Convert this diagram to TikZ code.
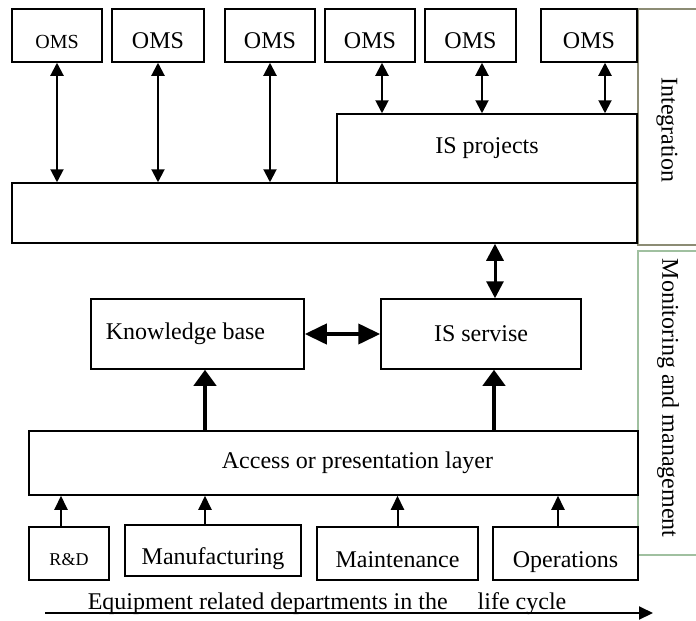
\documentclass[tikz,border=0pt]{standalone}
\usepackage{fontspec}
\setmainfont{Liberation Serif}
\usetikzlibrary{arrows.meta}

\definecolor{intframe}{RGB}{140,140,116}
\definecolor{monframe}{RGB}{160,192,160}

\begin{document}
\begin{tikzpicture}[
    x=1pt, y=-1pt,
    sysbox/.style={draw, line width=1.5pt, inner sep=0pt, align=center, font=\fontsize{24}{28}\selectfont},
    omsbox/.style={sysbox, minimum width=90pt, minimum height=53pt, text height=25pt, text depth=0pt},
    deptbox/.style={sysbox, minimum height=53pt, text height=27pt, text depth=0pt},
    thinduplex/.style={{Triangle[length=13pt,width=13pt]}-{Triangle[length=13pt,width=13pt]}, line width=2pt},
    boldduplex/.style={{Triangle[length=17pt,width=17pt]}-{Triangle[length=17pt,width=17pt]}, line width=3pt},
    wideduplex/.style={{Triangle[length=22pt,width=20pt]}-{Triangle[length=22pt,width=20pt]}, line width=4pt},
    thinlink/.style={-{Triangle[length=14pt,width=13pt]}, line width=2pt},
    boldlink/.style={-{Triangle[length=16pt,width=22pt]}, line width=4pt},
    sidelabel/.style={rotate=-90, font=\fontsize{24}{28}\selectfont}
  ]
    \useasboundingbox (0,0) rectangle (696,621);

    % side frames
    \draw[intframe, line width=1.5pt] (696,9) -- (638,9) -- (638,245) -- (696,245);
    \draw[monframe, line width=1.5pt] (696,251) -- (638,251) -- (638,555) -- (696,555);
    \node[sidelabel] (integlbl) at (667,130) {Integration};
    \node[sidelabel] (monlbl) at (668,398) {Monitoring and management};

    % integration level
    \node[omsbox, font=\fontsize{20}{24}\selectfont] (oms1) at (57,35.5) {OMS};
    \node[omsbox, minimum width=92pt] (oms2) at (158,35.5) {OMS};
    \node[omsbox] (oms3) at (270,35.5) {OMS};
    \node[omsbox] (oms4) at (370,35.5) {OMS};
    \node[omsbox, minimum width=91pt] (oms5) at (470.5,35.5) {OMS};
    \node[omsbox, minimum width=96pt] (oms6) at (589,35.5) {OMS};
    \node[sysbox, minimum width=625pt, minimum height=60pt] (integ) at (324.5,213) {};
    \node[sysbox, minimum width=300pt, minimum height=69pt] (isproj) at (487,148.5) {IS projects};

    % monitoring and management level
    \node[sysbox, minimum width=213pt, minimum height=70pt] (kb) at (197.5,334) {Knowledge base\hspace*{24pt}};
    \node[sysbox, minimum width=200pt, minimum height=70pt] (issrv) at (481,334) {IS servise};
    \node[sysbox, minimum width=609pt, minimum height=64pt] (access) at (333.5,463) {\hspace*{48pt}Access or presentation layer};

    % departments
    \node[deptbox, minimum width=80pt, font=\fontsize{18}{22}\selectfont, text height=23pt] (rd) at (69,553.5) {R\&D};
    \node[deptbox, minimum width=176pt, minimum height=51pt] (manuf) at (213,550.5) {Manufacturing};
    \node[deptbox, minimum width=161pt] (maint) at (397.5,553.5) {Maintenance};
    \node[deptbox, minimum width=145pt] (oper) at (565.5,553.5) {Operations};

    \coordinate (lcstart) at (45,613);
    \coordinate (lcend) at (653,613);
    \node[anchor=base, font=\fontsize{24}{28}\selectfont] (lifecycle) at (327,609) {Equipment related departments in the\hspace{1em} life cycle};

    % connectors
    \draw[thinduplex] (oms1) -- (oms1 |- integ.north);
    \draw[thinduplex] (oms2) -- (oms2 |- integ.north);
    \draw[thinduplex] (oms3) -- (oms3 |- integ.north);
    \draw[thinduplex] ([xshift=12pt]oms4.south) -- ([xshift=12pt]oms4.south |- isproj.north);
    \draw[thinduplex] ([xshift=11.5pt]oms5.south) -- ([xshift=11.5pt]oms5.south |- isproj.north);
    \draw[thinduplex] ([xshift=16pt]oms6.south) -- ([xshift=16pt]oms6.south |- isproj.north);
    \draw[boldduplex] ([xshift=14pt]issrv.north |- integ.south) -- ([xshift=14pt]issrv.north);
    \draw[wideduplex] (kb) -- (issrv);
    \draw[boldlink] ([xshift=7.5pt]kb.south |- access.north) -- ([xshift=7.5pt]kb.south);
    \draw[boldlink] ([xshift=13pt]issrv.south |- access.north) -- ([xshift=13pt]issrv.south);
    \draw[thinlink] ([xshift=-8pt]rd.north) -- ([xshift=-8pt]rd.north |- access.south);
    \draw[thinlink] ([xshift=-8pt]manuf.north) -- ([xshift=-8pt]manuf.north |- access.south);
    \draw[thinlink] (maint) -- (maint |- access.south);
    \draw[thinlink] ([xshift=-7.5pt]oper.north) -- ([xshift=-7.5pt]oper.north |- access.south);
    \draw[thinlink] (lcstart) -- (lcend);
  \end{tikzpicture}
\end{document}
